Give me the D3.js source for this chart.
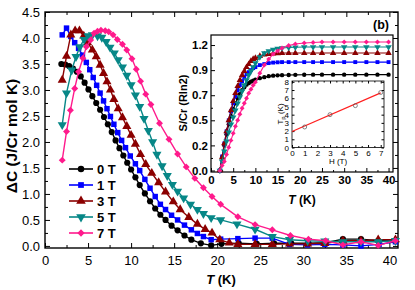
<!DOCTYPE html>
<html>
<head>
<meta charset="utf-8">
<script src="https://d3js.org/d3.v7.min.js"></script>
<style>
  body { margin: 0; background: #fff; }
  text { font-family: "Liberation Sans", Arial, sans-serif; }
</style>
</head>
<body>
<svg id="chart" width="415" height="290"></svg>
<script>
// ---- main panel: delta C vs T, one list per field ----
var T0 = [1.9,2.35,2.8,3.25,3.7,4.15,4.6,5.05,5.5,5.95,6.4,6.85,7.3,7.75,8.2,8.65,9.1,9.55,10.0,10.5,11.0,11.6,12.2,12.8,13.4,14.0,14.7,15.4,16.2,17.0,18.1,19.3,20.5,22.5,24.6,26.6,28.6,30.6,32.6,34.6,36.7,38.7,40.7];
var C0 = [3.50,3.49,3.46,3.41,3.35,3.26,3.14,3.01,2.88,2.75,2.62,2.48,2.34,2.19,2.03,1.88,1.74,1.60,1.47,1.32,1.17,1.01,0.86,0.72,0.60,0.50,0.39,0.30,0.20,0.12,0.05,0.01,0.04,0.05,0.04,0.05,0.05,0.05,0.06,0.13,0.13,0.10,0.10];

var T1 = [2.0,2.5,3.0,3.45,3.9,4.35,4.8,5.2,5.6,6.0,6.4,6.8,7.2,7.6,8.0,8.45,8.9,9.35,9.9,10.5,11.0,11.6,12.2,12.8,13.4,14.0,14.7,15.4,16.2,17.0,17.7,18.4,19.3,20.4,22.4,24.4,26.4,28.4,30.5,32.5,34.6,36.7,38.8,40.7];
var C1 = [4.06,4.19,4.03,3.91,3.80,3.67,3.53,3.39,3.24,3.09,2.94,2.79,2.64,2.49,2.34,2.18,2.03,1.89,1.73,1.58,1.45,1.28,1.11,0.95,0.80,0.70,0.59,0.50,0.40,0.31,0.24,0.18,0.12,0.13,0.14,0.15,0.15,0.03,0.02,0.03,0.02,0.00,0.03,0.08];

var T3 = [2.0,2.5,3.0,3.5,4.0,4.5,4.95,5.5,5.95,6.4,6.8,7.2,7.6,8.0,8.5,9.0,9.5,10.0,10.5,11.1,11.7,12.4,13.2,14.0,14.9,15.7,16.7,17.7,18.6,19.4,20.3,21.4,22.4,24.4,26.4,28.4,30.5,32.5,34.6,36.7,38.7,40.7];
var C3 = [3.19,3.65,4.06,4.14,4.14,4.04,3.91,3.77,3.64,3.48,3.32,3.16,3.00,2.82,2.64,2.47,2.30,2.13,1.96,1.76,1.57,1.40,1.22,1.04,0.85,0.70,0.55,0.42,0.32,0.25,0.12,0.06,0.03,0.03,0.03,0.04,0.04,0.05,0.10,0.10,0.12,0.12];

var T5 = [2.0,2.5,3.1,3.6,4.05,4.55,5.0,5.5,6.1,6.6,7.1,7.55,8.05,8.5,9.0,9.5,10.0,10.5,11.0,11.5,12.0,12.5,13.0,13.6,14.2,14.8,15.4,16.1,16.9,17.7,18.4,19.3,20.4,22.3,24.4,26.4,28.4,30.5,32.5,34.6,36.7,38.7,40.7];
var C5 = [2.33,2.94,3.38,3.64,3.83,3.97,4.04,4.06,4.04,4.01,3.93,3.82,3.71,3.58,3.44,3.28,3.10,2.90,2.68,2.45,2.22,2.00,1.76,1.54,1.35,1.18,1.05,0.92,0.80,0.70,0.62,0.54,0.50,0.42,0.32,0.18,0.12,0.10,0.09,0.08,0.08,0.08,0.10];

var T7 = [2.0,2.5,2.95,3.45,3.9,4.4,4.8,5.3,5.7,6.1,6.5,7.0,7.4,7.9,8.4,9.0,9.5,10.1,10.6,11.1,11.7,12.3,13.3,14.4,15.4,16.4,17.4,18.4,19.4,20.4,22.4,24.4,26.4,28.5,30.6,32.6,34.6,36.7,38.7,40.7];
var C7 = [1.65,2.20,2.61,3.03,3.35,3.61,3.83,3.96,4.09,4.13,4.15,4.14,4.12,4.06,3.97,3.88,3.77,3.60,3.40,3.17,2.92,2.72,2.36,2.05,1.77,1.52,1.30,1.12,0.95,0.80,0.56,0.41,0.31,0.20,0.13,0.10,0.02,0.08,0.01,0.10];

// ---- inset (b): entropy S vs T ----
var TS = [2,2.5,3,3.5,4,4.5,5,5.5,6,6.5,7,7.5,8,8.5,9,9.5,10,11,12,13,14,15,16,17.5,19,21,23,25,27.5,30,32.5,35,37.5,40];
var S0 = [0,0.13,0.25,0.36,0.46,0.54,0.61,0.67,0.72,0.76,0.80,0.83,0.855,0.87,0.885,0.895,0.905,0.92,0.93,0.94,0.945,0.948,0.95,0.952,0.953,0.954,0.955,0.955,0.955,0.955,0.955,0.955,0.955,0.955];
var S1 = [0,0.14,0.27,0.39,0.50,0.59,0.67,0.74,0.80,0.85,0.89,0.93,0.96,0.98,1.00,1.02,1.03,1.05,1.06,1.07,1.075,1.078,1.08,1.08,1.08,1.08,1.08,1.08,1.08,1.08,1.08,1.08,1.08,1.08];
var S3 = [0,0.13,0.27,0.39,0.50,0.60,0.69,0.77,0.84,0.90,0.95,0.99,1.03,1.06,1.09,1.11,1.12,1.14,1.155,1.16,1.165,1.168,1.17,1.17,1.17,1.17,1.17,1.17,1.17,1.17,1.17,1.17,1.17,1.17];
var S5 = [0,0.09,0.19,0.29,0.38,0.46,0.53,0.60,0.67,0.73,0.79,0.85,0.90,0.95,0.99,1.03,1.07,1.13,1.17,1.19,1.205,1.215,1.22,1.225,1.228,1.23,1.23,1.23,1.23,1.23,1.23,1.23,1.23,1.23];
var S7 = [0,0.05,0.09,0.16,0.23,0.30,0.37,0.44,0.50,0.56,0.62,0.67,0.72,0.77,0.81,0.85,0.88,0.97,1.05,1.11,1.16,1.19,1.22,1.245,1.26,1.27,1.275,1.28,1.28,1.28,1.28,1.28,1.28,1.28];

// ---- inner inset: Tp vs H ----
var H = [1,3,5,7];
var Tp = [2.5,4.0,5.1,6.7];
var fitH = [0,7];
var fitTp = [1.95,6.65];

// ---- tick labels ----
var xTicks = [0,5,10,15,20,25,30,35,40];
var yTicks = [0,0.5,1.0,1.5,2.0,2.5,3.0,3.5,4.0,4.5];
var sTicks = [0,0.25,0.5,0.75,1.0,1.25];
var sLabels = ["0.0","0.2","0.5","0.7","0.9","1.2"];
var hTicks = [0,1,2,3,4,5,6,7];
var tpTicks = [0,1,2,3,4,5,6,7,8];

var names = ["0 T","1 T","3 T","5 T","7 T"];
var colors = ["#000000","#0000ff","#8b0000","#078787","#ff1a8c"];

var series = [
  {name: names[0], T: T0, C: C0, S: S0, color: colors[0], shape: "circle"},
  {name: names[1], T: T1, C: C1, S: S1, color: colors[1], shape: "square"},
  {name: names[2], T: T3, C: C3, S: S3, color: colors[2], shape: "up"},
  {name: names[3], T: T5, C: C5, S: S5, color: colors[3], shape: "down"},
  {name: names[4], T: T7, C: C7, S: S7, color: colors[4], shape: "diamond"}
];

var svg = d3.select("#chart");
var font = "'Liberation Sans', Arial, sans-serif";

function marker(shape, k) {
  if (shape == "circle") return {d: d3.symbol(d3.symbolCircle, 30 * k)(), rot: 0};
  if (shape == "square") return {d: d3.symbol(d3.symbolSquare, 30 * k)(), rot: 0};
  if (shape == "up") return {d: d3.symbol(d3.symbolTriangle, 36 * k)(), rot: 0};
  if (shape == "down") return {d: d3.symbol(d3.symbolTriangle, 36 * k)(), rot: 180};
  return {d: d3.symbol(d3.symbolSquare, 24 * k)(), rot: 45};
}

function styleAxis(g, size, weight) {
  g.attr("font-family", font).attr("font-size", size).attr("font-weight", weight || "normal");
  g.select(".domain").remove();
  g.selectAll("line").attr("stroke", "#000").attr("stroke-width", 1);
  g.selectAll("text").attr("fill", "#000");
}

// draws inward ticks on all requested sides of a box
function frameAxes(x, y, opt) {
  var x0 = x.range()[0], x1 = x.range()[1], y0 = y.range()[0], y1 = y.range()[1];
  var g = svg.append("g");
  g.append("g").attr("transform", "translate(0," + y0 + ")")
    .call(d3.axisBottom(x).tickValues(opt.xTicks).tickSizeInner(-opt.major).tickSizeOuter(0)
      .tickPadding(opt.xPad).tickFormat(opt.xFormat))
    .call(styleAxis, opt.font, opt.weight);
  g.append("g").attr("transform", "translate(0," + y0 + ")")
    .call(d3.axisBottom(x).tickValues(opt.xMinor).tickSize(-opt.minor).tickFormat(""))
    .call(styleAxis, opt.font);
  g.append("g").attr("transform", "translate(" + x0 + ",0)")
    .call(d3.axisLeft(y).tickValues(opt.yTicks).tickSizeInner(-opt.major).tickSizeOuter(0)
      .tickPadding(opt.yPad).tickFormat(opt.yFormat))
    .call(styleAxis, opt.font, opt.weight);
  g.append("g").attr("transform", "translate(" + x0 + ",0)")
    .call(d3.axisLeft(y).tickValues(opt.yMinor).tickSize(-opt.minor).tickFormat(""))
    .call(styleAxis, opt.font);
  if (opt.mirror) {
    g.append("g").attr("transform", "translate(0," + y1 + ")")
      .call(d3.axisTop(x).tickValues(opt.xTicks).tickSize(-opt.major).tickFormat(""))
      .call(styleAxis, opt.font);
    g.append("g").attr("transform", "translate(0," + y1 + ")")
      .call(d3.axisTop(x).tickValues(opt.xMinor).tickSize(-opt.minor).tickFormat(""))
      .call(styleAxis, opt.font);
    g.append("g").attr("transform", "translate(" + x1 + ",0)")
      .call(d3.axisRight(y).tickValues(opt.yTicks).tickSize(-opt.major).tickFormat(""))
      .call(styleAxis, opt.font);
    g.append("g").attr("transform", "translate(" + x1 + ",0)")
      .call(d3.axisRight(y).tickValues(opt.yMinor).tickSize(-opt.minor).tickFormat(""))
      .call(styleAxis, opt.font);
  }
  g.append("rect")
    .attr("x", x0).attr("y", y1).attr("width", x1 - x0).attr("height", y0 - y1)
    .attr("fill", "none").attr("stroke", "#000").attr("stroke-width", opt.frame);
}

function drawSeries(x, y, list, key, k, lw) {
  var line = d3.line().x(function(d) { return x(d[0]); }).y(function(d) { return y(d[1]); });
  list.forEach(function(s) {
    var pts = s.T.map(function(t, i) { return [t, s[key][i]]; });
    if (key == "S") pts = TS.map(function(t, i) { return [t, s.S[i]]; });
    svg.append("path").datum(pts)
      .attr("d", line).attr("fill", "none")
      .attr("stroke", s.color).attr("stroke-width", lw);
    var m = marker(s.shape, k);
    svg.append("g").selectAll("path").data(pts).enter().append("path")
      .attr("d", m.d)
      .attr("transform", function(d) { return "translate(" + x(d[0]) + "," + y(d[1]) + ") rotate(" + m.rot + ")"; })
      .attr("fill", s.color);
  });
}

// ================= main panel =================
var x = d3.scaleLinear().domain([0, 41]).range([45, 398]);
var y = d3.scaleLinear().domain([-0.04, 4.5]).range([248, 12]);

frameAxes(x, y, {
  xTicks: xTicks, xMinor: xTicks.map(function(d) { return d + 2.5; }).filter(function(d) { return d < 41; }),
  yTicks: yTicks, yMinor: yTicks.map(function(d) { return d + 0.25; }).filter(function(d) { return d < 4.5; }),
  major: 5, minor: 3, xPad: 8, yPad: 5, font: 13, frame: 1.4, mirror: true,
  xFormat: d3.format("d"), yFormat: d3.format(".1f")
});

drawSeries(x, y, series, "C", 1, 1.4);

svg.append("text")
  .attr("transform", "translate(17,136) rotate(-90)")
  .attr("text-anchor", "middle").attr("font-size", 15.5).attr("font-weight", "bold")
  .text("\u0394C (J/Cr mol K)");

var xl = svg.append("text")
  .attr("x", 221).attr("y", 284).attr("text-anchor", "middle")
  .attr("font-size", 13).attr("font-weight", "bold");
xl.append("tspan").attr("font-style", "italic").text("T");
xl.append("tspan").text(" (K)");

// legend
var leg = svg.append("g");
series.forEach(function(s, i) {
  var ly = 169 + i * 16;
  leg.append("line").attr("x1", 69).attr("x2", 93).attr("y1", ly).attr("y2", ly)
    .attr("stroke", s.color).attr("stroke-width", 1.6);
  var m = marker(s.shape, 1.1);
  leg.append("path").attr("d", m.d)
    .attr("transform", "translate(81," + ly + ") rotate(" + m.rot + ")")
    .attr("fill", s.color);
  leg.append("text").attr("x", 97).attr("y", ly + 4.6)
    .attr("font-size", 13).attr("font-weight", "bold").text(s.name);
});

// ================= inset (b) =================
var xs = d3.scaleLinear().domain([0, 41]).range([211, 393]);
var ys = d3.scaleLinear().domain([-0.015, 1.35]).range([172, 35]);

svg.append("rect").attr("x", 211).attr("y", 35).attr("width", 182).attr("height", 137).attr("fill", "#fff");

frameAxes(xs, ys, {
  xTicks: xTicks, xMinor: xTicks.map(function(d) { return d + 2.5; }).filter(function(d) { return d < 41; }),
  yTicks: sTicks, yMinor: sTicks.map(function(d) { return d + 0.125; }).filter(function(d) { return d < 1.35; }),
  major: 4, minor: 2, xPad: 4, yPad: 3, font: 11.5, weight: "bold", frame: 1.2, mirror: false,
  xFormat: d3.format("d"), yFormat: function(d) { return sLabels[sTicks.indexOf(d)]; }
});

drawSeries(xs, ys, series, "S", 0.5, 1.1);

svg.append("text")
  .attr("transform", "translate(187,103) rotate(-90)")
  .attr("text-anchor", "middle").attr("font-size", 11).attr("font-weight", "bold")
  .text("S/Cr (Rln2)");

var xl2 = svg.append("text")
  .attr("x", 302).attr("y", 204).attr("text-anchor", "middle")
  .attr("font-size", 12).attr("font-weight", "bold");
xl2.append("tspan").attr("font-style", "italic").text("T");
xl2.append("tspan").text(" (K)");

svg.append("text").attr("x", 381).attr("y", 29).attr("text-anchor", "middle")
  .attr("font-size", 12.5).attr("font-weight", "bold").text("(b)");

// ================= inner inset: Tp vs H =================
var xh = d3.scaleLinear().domain([0, 7.26]).range([292, 384]);
var yh = d3.scaleLinear().domain([0, 8.1]).range([147.5, 81]);

svg.append("rect").attr("x", 292).attr("y", 81).attr("width", 92).attr("height", 66.5).attr("fill", "#fff");

frameAxes(xh, yh, {
  xTicks: hTicks, xMinor: hTicks.map(function(d) { return d + 0.5; }).filter(function(d) { return d < 7.2; }),
  yTicks: tpTicks, yMinor: [],
  major: 2.5, minor: 1.5, xPad: 3, yPad: 3, font: 8, frame: 0.8, mirror: true,
  xFormat: d3.format("d"), yFormat: d3.format("d")
});

svg.append("path")
  .datum(fitH.map(function(h, i) { return [h, fitTp[i]]; }))
  .attr("d", d3.line().x(function(d) { return xh(d[0]); }).y(function(d) { return yh(d[1]); }))
  .attr("stroke", "#ff2020").attr("stroke-width", 1.2).attr("fill", "none");

svg.append("g").selectAll("circle").data(H).enter().append("circle")
  .attr("cx", function(d) { return xh(d); })
  .attr("cy", function(d, i) { return yh(Tp[i]); })
  .attr("r", 2).attr("fill", "none").attr("stroke", "#555").attr("stroke-width", 0.7);

var tl = svg.append("text")
  .attr("transform", "translate(283,114) rotate(-90)")
  .attr("text-anchor", "middle").attr("font-size", 8);
tl.append("tspan").text("T");
tl.append("tspan").attr("font-size", 6).attr("dy", 2).text("p");
tl.append("tspan").attr("dy", -2).text(" (K)");

svg.append("text").attr("x", 338).attr("y", 164).attr("text-anchor", "middle")
  .attr("font-size", 8).text("H (T)");
</script>
</body>
</html>
